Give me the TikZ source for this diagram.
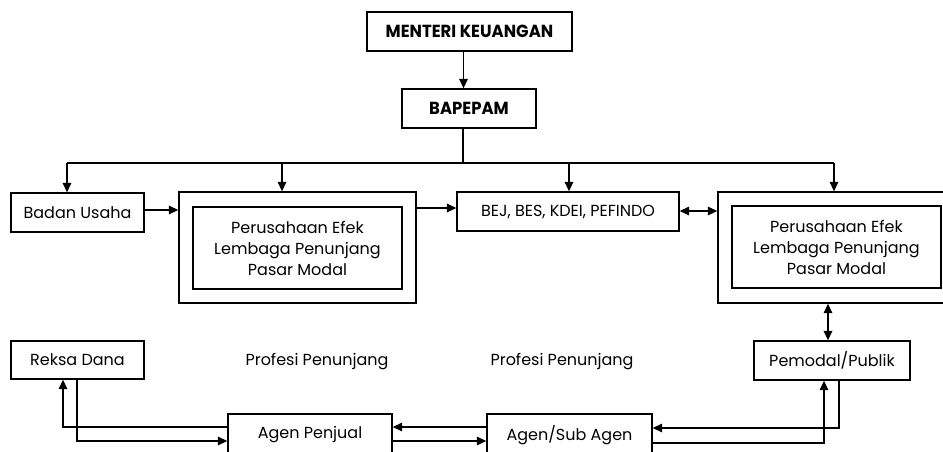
\documentclass[tikz,border=0pt]{standalone}
\usepackage{fontspec}
\setmainfont{Poppins}
\newfontfamily\titlefont[FakeStretch=0.94]{Poppins}
\usetikzlibrary{arrows.meta,calc}
\begin{document}
\begin{tikzpicture}[x=1pt,y=-1pt,
  box/.style={draw,line width=1.3pt,inner sep=0pt,align=center,font=\fontsize{16}{21}\selectfont},
  ttl/.style={draw,line width=1.3pt,inner sep=0pt,font=\titlefont\bfseries\fontsize{17.5}{20}\selectfont},
  plain/.style={inner sep=0pt,font=\fontsize{16}{21}\selectfont},
  conn/.style={line width=1.4pt},
  arr/.style={conn,-{Triangle[length=9.5pt,width=8.5pt]}},
  darr/.style={conn,{Triangle[length=9.5pt,width=8.5pt]}-{Triangle[length=9.5pt,width=8.5pt]}}]
\useasboundingbox (0,0) rectangle (943,451);
\node[ttl,minimum width=205pt,minimum height=39pt] (menteri) at (469.5,31.5) {MENTERI KEUANGAN};
\node[ttl,minimum width=134pt,minimum height=39pt] (bapepam) at (469,108.5) {BAPEPAM};
\node[box,minimum width=133pt,minimum height=39pt] (badan) at (77.5,212.5) {Badan Usaha};
\node[box,minimum width=237pt,minimum height=111pt] (outer1) at (297.5,247.5) {};
\node[box,minimum width=209pt,minimum height=82pt] (inner1) at (297.5,248) {Perusahaan Efek\\Lembaga Penunjang\\Pasar Modal};
\node[box,minimum width=222pt,minimum height=39pt] (bej) at (568,211.5) {BEJ, BES, KDEI, PEFINDO};
\node[box,minimum width=237pt,minimum height=111pt] (outer2) at (836.5,247.5) {};
\node[box,minimum width=209pt,minimum height=82pt] (inner2) at (836.5,247) {Perusahaan Efek\\Lembaga Penunjang\\Pasar Modal};
\node[box,minimum width=133pt,minimum height=38pt] (reksa) at (77.5,360) {Reksa Dana};
\node[plain] (prof1) at (317,362) {Profesi Penunjang};
\node[plain] (prof2) at (562,362) {Profesi Penunjang};
\node[box,minimum width=156pt,minimum height=39pt] (pemodal) at (832,360.5) {Pemodal/Publik};
\node[box,minimum width=164pt,minimum height=42pt] (agenp) at (310,435) {\raisebox{2pt}{Agen Penjual}};
\node[box,minimum width=165pt,minimum height=42pt] (agens) at (569.5,435) {\raisebox{2pt}{Agen/Sub Agen}};
% top
\draw[arr] ([xshift=-6pt]menteri.south) -- ([xshift=-6pt]menteri.south |- bapepam.north);
\coordinate (bus) at (463,163);
\draw[conn] ([xshift=-6pt]bapepam.south) -- (bus);
\coordinate (b1) at (67,163);
\coordinate (b2) at (282,163);
\coordinate (b3) at (569,163);
\coordinate (b4) at (834,163);
\draw[conn] (b1) -- (b4);
\draw[arr] (b1) -- (b1 |- badan.north);
\draw[arr] (b2) -- (b2 |- outer1.north);
\draw[arr] (b3) -- (b3 |- bej.north);
\draw[arr] (b4) -- (b4 |- outer2.north);
% middle row
\draw[arr] ([yshift=2.5pt]badan.east) -- ([yshift=2.5pt]badan.east -| outer1.west);
\draw[arr] ([yshift=3.5pt]bej.west -| outer1.east) -- ([yshift=3.5pt]bej.west);
\draw[darr] ([yshift=0.5pt]bej.east) -- ([yshift=0.5pt]bej.east -| outer2.west);
\draw[darr] ([xshift=-8.5pt]outer2.south) -- ([xshift=-4pt]pemodal.north);
% bottom
\draw[arr] ([xshift=-0.5pt]reksa.south) |- ([yshift=-6pt]agenp.west);
\draw[arr] ([yshift=8pt]agenp.west) -| ([xshift=-14.5pt]reksa.south);
\draw[arr] ([yshift=-6pt]agenp.east) -- ([yshift=-6pt]agenp.east -| agens.west);
\draw[arr] ([yshift=8pt]agens.west) -- ([yshift=8pt]agens.west -| agenp.east);
\draw[arr] ([yshift=-8pt]agens.east) -| ([xshift=-8pt]pemodal.south);
\draw[arr] ([xshift=7pt]pemodal.south) |- ([yshift=7pt]agens.east);
\end{tikzpicture}
\end{document}
